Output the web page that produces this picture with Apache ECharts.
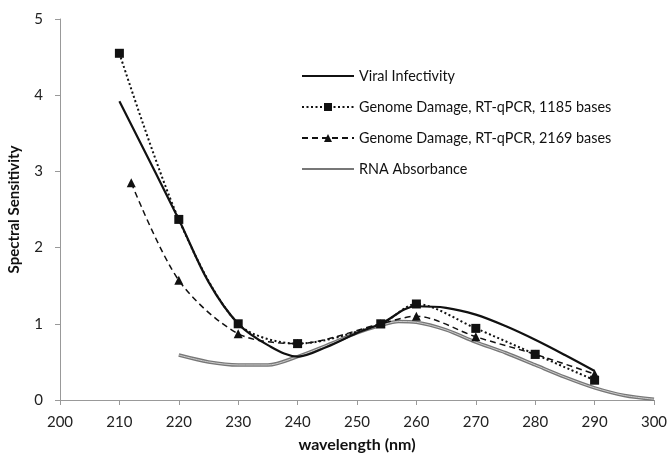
<!DOCTYPE html>
<html>
<head>
<meta charset="utf-8">
<script src="https://cdn.jsdelivr.net/npm/echarts@6/dist/echarts.min.js"></script>
<style>
  html, body { margin: 0; padding: 0; background: #fff; }
  #main { width: 668px; height: 457px; }
</style>
</head>
<body>
<div id="main"></div>
<script>
// values
var viralX = [210, 220, 225, 230, 235, 240, 245, 250, 254, 260, 265, 270, 275, 280, 285, 290];
var viralY = [3.92, 2.37, 1.55, 1.0, 0.72, 0.57, 0.7, 0.88, 1.0, 1.23, 1.21, 1.12, 0.97, 0.79, 0.59, 0.38];

var g1185X = [210, 220, 230, 240, 254, 260, 270, 280, 290];
var g1185Y = [4.55, 2.37, 1.0, 0.74, 1.0, 1.26, 0.94, 0.6, 0.26];

var g2169X = [212, 220, 230, 240, 254, 260, 270, 280, 290];
var g2169Y = [2.85, 1.57, 0.87, 0.74, 1.0, 1.1, 0.83, 0.6, 0.34];

var rnaX = [220, 225, 230, 235, 240, 245, 250, 254, 257, 260, 265, 270, 275, 280, 285, 290, 295, 300];
var rnaY = [0.59, 0.5, 0.46, 0.46, 0.57, 0.72, 0.88, 0.98, 1.03, 1.02, 0.92, 0.76, 0.62, 0.46, 0.3, 0.16, 0.06, 0.01];

function pairs(xs, ys) {
  return xs.map(function (x, i) { return [x, ys[i]]; });
}

var chart = echarts.init(document.getElementById('main'));
var font = 'Lato, "Open Sans", sans-serif';

var option = {
  animation: false,
  textStyle: { fontFamily: font },
  grid: { left: 60, right: 14, top: 19, bottom: 57, outerBoundsMode: 'none' },
  legend: {
    orient: 'vertical',
    left: 296,
    top: 64,
    itemGap: 17,
    itemWidth: 52,
    itemHeight: 10,
    textStyle: { fontSize: 14.4, color: '#111', fontFamily: font },
    data: [
      { name: 'Viral Infectivity', itemStyle: { opacity: 0 } },
      'Genome Damage, RT-qPCR, 1185 bases',
      'Genome Damage, RT-qPCR, 2169 bases',
      { name: 'RNA Absorbance', itemStyle: { opacity: 0 } }
    ]
  },
  xAxis: {
    type: 'value',
    min: 200, max: 300, interval: 10,
    name: 'wavelength (nm)',
    nameLocation: 'middle',
    nameGap: 37,
    nameTextStyle: { fontSize: 16, fontWeight: 'bold', color: '#111' },
    axisLine: { lineStyle: { color: '#999' } },
    axisTick: { lineStyle: { color: '#999' }, length: 5 },
    axisLabel: { fontSize: 15, color: '#222', margin: 15 },
    splitLine: { show: false }
  },
  yAxis: {
    type: 'value',
    min: 0, max: 5, interval: 1,
    name: 'Spectral Sensitivity',
    nameLocation: 'middle',
    nameGap: 38,
    nameTextStyle: { fontSize: 15, fontWeight: 'bold', color: '#111' },
    axisLine: { show: true, lineStyle: { color: '#999' } },
    axisTick: { show: true, lineStyle: { color: '#999' }, length: 5 },
    axisLabel: { fontSize: 15, color: '#222', margin: 17 },
    splitLine: { show: false }
  },
  series: [
    {
      name: 'RNA Absorbance',
      type: 'line',
      smooth: 0.3,
      symbol: 'none',
      data: pairs(rnaX, rnaY),
      lineStyle: { color: '#777', width: 3.5 },
      itemStyle: { color: '#777' },
      z: 1
    },
    {
      name: 'rna-inner',
      type: 'line',
      smooth: 0.3,
      symbol: 'none',
      data: pairs(rnaX, rnaY),
      lineStyle: { color: '#ccc', width: 1 },
      z: 2
    },
    {
      name: 'Genome Damage, RT-qPCR, 2169 bases',
      type: 'line',
      smooth: 0.3,
      symbol: 'triangle',
      symbolSize: 9,
      data: pairs(g2169X, g2169Y),
      lineStyle: { color: '#111', width: 1.5, type: [6, 4] },
      itemStyle: { color: '#111' },
      z: 3
    },
    {
      name: 'Genome Damage, RT-qPCR, 1185 bases',
      type: 'line',
      smooth: 0.3,
      symbol: 'rect',
      symbolSize: 9,
      data: pairs(g1185X, g1185Y),
      lineStyle: { color: '#111', width: 2, type: [2, 2.5] },
      itemStyle: { color: '#111' },
      z: 4
    },
    {
      name: 'Viral Infectivity',
      type: 'line',
      smooth: 0.35,
      symbol: 'none',
      data: pairs(viralX, viralY),
      lineStyle: { color: '#111', width: 2.2 },
      itemStyle: { color: '#111' },
      z: 5
    }
  ]
};

chart.setOption(option);
</script>
</body>
</html>
